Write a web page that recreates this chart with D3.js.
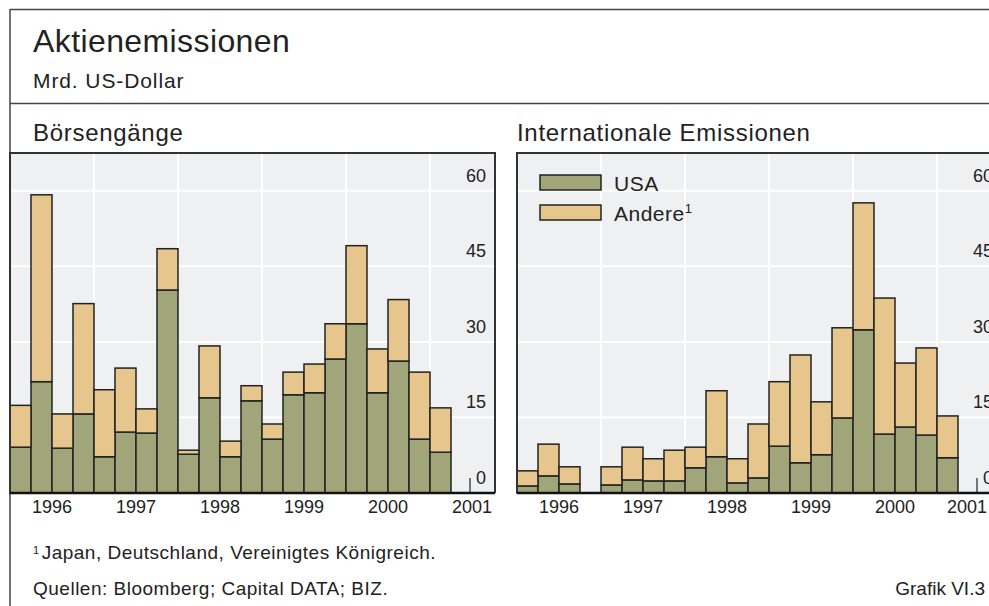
<!DOCTYPE html>
<meta charset="utf-8">
<script src="https://d3js.org/d3.v7.min.js"></script>
<style>
  body { margin: 0; background: #fff; }
  text { font-family: "Liberation Sans", Arial, sans-serif; fill: #222; }
</style>
<svg id="chart" width="989" height="606"></svg>
<script>

// quarters 1996 Q1 .. 2001 Q1
var quarters = ["1996Q1","1996Q2","1996Q3","1996Q4","1997Q1","1997Q2","1997Q3","1997Q4",
  "1998Q1","1998Q2","1998Q3","1998Q4","1999Q1","1999Q2","1999Q3","1999Q4",
  "2000Q1","2000Q2","2000Q3","2000Q4","2001Q1"];
var years = [1996, 1997, 1998, 1999, 2000, 2001];
var yTicks = [0, 15, 30, 45, 60];

// Börsengänge
var ipoUSA    = [9.1, 22.1, 8.9, 15.7, 7.2, 12.1, 11.9, 40.3, 7.7, 18.9, 7.2, 18.3, 10.7, 19.5, 19.9, 26.6, 33.6, 19.9, 26.2, 10.7, 8.1];
var ipoAndere = [8.3, 37.1, 6.8, 21.9, 13.3, 12.7, 4.8, 8.2, 0.8, 10.3, 3.1, 3.0, 3.0, 4.5, 5.7, 7.0, 15.5, 8.7, 12.2, 13.3, 8.8];

// Internationale Emissionen
var intlUSA    = [1.4, 3.4, 1.8, 0, 1.6, 2.6, 2.4, 2.4, 5.0, 7.2, 2.0, 3.0, 9.3, 6.0, 7.6, 14.9, 32.4, 11.7, 13.1, 11.5, 7.0];
var intlAndere = [3.0, 6.3, 3.4, 0, 3.6, 6.5, 4.4, 6.1, 4.1, 13.1, 4.8, 10.7, 12.8, 21.4, 10.5, 17.9, 25.2, 27.0, 12.7, 17.3, 8.3];

var colUSA = "#a0a57a", colAndere = "#e6c68c";

var svg = d3.select("#chart");
var W = 989;

// outer frame
svg.append("line").attr("x1", 10).attr("x2", W).attr("y1", 9.5).attr("y2", 9.5)
  .attr("stroke", "#444").attr("stroke-width", 1.5);
svg.append("line").attr("x1", 10).attr("x2", 10).attr("y1", 9).attr("y2", 606)
  .attr("stroke", "#444").attr("stroke-width", 1.5);
svg.append("line").attr("x1", 10).attr("x2", W).attr("y1", 103.5).attr("y2", 103.5)
  .attr("stroke", "#444").attr("stroke-width", 1.5);

svg.append("text").attr("x", 33).attr("y", 52).style("font-size", "32px")
  .style("letter-spacing", "0.4px").text("Aktienemissionen");
svg.append("text").attr("x", 33).attr("y", 88).style("font-size", "21px")
  .style("letter-spacing", "0.9px").text("Mrd. US-Dollar");

var pw = 485, ph = 340;

var x = d3.scaleBand().domain(quarters).range([0, 21 * 21]).padding(0);
var xYear = d3.scaleLinear().domain([1996, 2002]).range([0, 504]);
var y = d3.scaleLinear().domain([0, 67.5]).range([ph, 0]);

function panel(left, titleX, title, usa, andere, legend) {
  svg.append("text").attr("x", titleX).attr("y", 141).style("font-size", "24px")
    .style("letter-spacing", "0.7px").text(title);

  var g = svg.append("g").attr("transform", "translate(" + left + ",153)");
  g.append("rect").attr("width", pw).attr("height", ph).attr("fill", "#eff0f2");

  // grid
  g.selectAll(".hg").data(yTicks.slice(1)).enter().append("line")
    .attr("x1", 0).attr("x2", pw).attr("y1", d => y(d)).attr("y2", d => y(d))
    .attr("stroke", "#fff").attr("stroke-width", 2);
  g.selectAll(".vg").data(years.slice(1)).enter().append("line")
    .attr("x1", d => xYear(d)).attr("x2", d => xYear(d)).attr("y1", 0).attr("y2", ph)
    .attr("stroke", "#fff").attr("stroke-width", 2);

  // stacked bars
  var rows = quarters.map(function(q, i) { return { q: q, usa: usa[i], andere: andere[i] }; });
  var stack = d3.stack().keys(["usa", "andere"])(rows);
  var colors = { usa: colUSA, andere: colAndere };
  stack.forEach(function(layer) {
    g.selectAll(null).data(layer.filter(d => d[1] - d[0] > 0)).enter().append("rect")
      .attr("x", d => x(d.data.q))
      .attr("width", x.bandwidth())
      .attr("y", d => y(d[1]))
      .attr("height", d => y(d[0]) - y(d[1]))
      .attr("fill", colors[layer.key])
      .attr("stroke", "#222").attr("stroke-width", 1.5);
  });

  // y tick labels inside the plot, on the right
  g.selectAll(".yl").data(yTicks).enter().append("text")
    .attr("x", 476).attr("y", d => y(d) - 9)
    .attr("text-anchor", "end").style("font-size", "18px")
    .text(d => d);
  g.append("line").attr("x1", 460).attr("x2", 460).attr("y1", ph - 15).attr("y2", ph)
    .attr("stroke", "#222").attr("stroke-width", 1.2);

  // year labels (the last one is pushed left if it would leave the picture)
  g.selectAll(".xl").data(years).enter().append("text")
    .attr("x", d => xYear(d + 0.5)).attr("y", ph + 20)
    .attr("text-anchor", "middle").style("font-size", "18px")
    .text(d => d)
    .each(function() {
      var t = d3.select(this), half = this.getComputedTextLength() / 2;
      var cx = +t.attr("x");
      if (left + cx + half > W - 2) t.attr("x", W - 2 - left - half);
    });

  // frame
  g.append("path").attr("d", "M0," + ph + "V0H" + pw + "V" + ph)
    .attr("fill", "none").attr("stroke", "#333").attr("stroke-width", 2);
  g.append("line").attr("x1", 0).attr("x2", pw).attr("y1", ph).attr("y2", ph)
    .attr("stroke", "#111").attr("stroke-width", 2.5);

  if (legend) {
    var items = [{ c: colUSA, t: "USA" }, { c: colAndere, t: "Andere" }];
    var lg = g.selectAll(".lg").data(items).enter().append("g")
      .attr("transform", (d, i) => "translate(23," + (22 + i * 30) + ")");
    lg.append("rect").attr("width", 61).attr("height", 15)
      .attr("fill", d => d.c).attr("stroke", "#222").attr("stroke-width", 1.5);
    var lt = lg.append("text").attr("x", 74).attr("y", 16).style("font-size", "21px")
      .style("letter-spacing", "0.5px").text(d => d.t);
    lt.filter(d => d.t === "Andere").append("tspan").attr("dy", -8).style("font-size", "13px").text("1");
  }
}

panel(10, 33, "Börsengänge", ipoUSA, ipoAndere, false);
panel(517, 517, "Internationale Emissionen", intlUSA, intlAndere, true);

// footer
var fn = svg.append("text").attr("x", 33).attr("y", 559).style("font-size", "19px").style("letter-spacing", "0.5px");
fn.append("tspan").attr("dy", -5).style("font-size", "11px").text("1");
fn.append("tspan").attr("dy", 5).attr("dx", 2).text("Japan, Deutschland, Vereinigtes Königreich.");
svg.append("text").attr("x", 33).attr("y", 595).style("font-size", "19px").style("letter-spacing", "0.5px")
  .text("Quellen: Bloomberg; Capital DATA; BIZ.");
svg.append("text").attr("x", 985).attr("y", 595).attr("text-anchor", "end").style("font-size", "19px")
  .text("Grafik VI.3");

</script>
